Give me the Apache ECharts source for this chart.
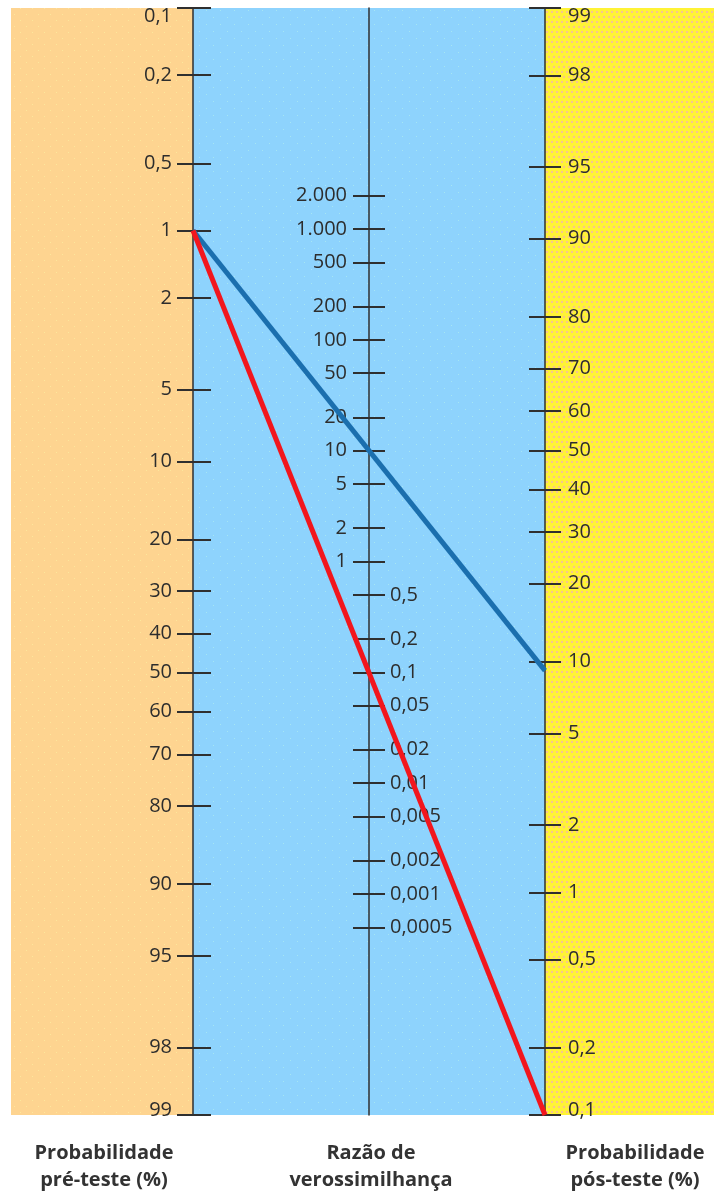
<!DOCTYPE html>
<html>
<head>
<meta charset="utf-8">
<script src="https://cdn.jsdelivr.net/npm/echarts@6/dist/echarts.min.js"></script>
<style>
  html, body { margin: 0; padding: 0; background: #ffffff; }
  #chart { width: 714px; height: 1196px; }
</style>
</head>
<body>
<div id="chart"></div>
<script>
// Fagan nomogram: pre-test probability, likelihood ratio, post-test probability

// ---- data ----
const preTicks  = [0.1, 0.2, 0.5, 1, 2, 5, 10, 20, 30, 40, 50, 60, 70, 80, 90, 95, 98, 99];
const preLabels = ['0,1', '0,2', '0,5', '1', '2', '5', '10', '20', '30', '40', '50', '60', '70', '80', '90', '95', '98', '99'];

const postTicks  = [99, 98, 95, 90, 80, 70, 60, 50, 40, 30, 20, 10, 5, 2, 1, 0.5, 0.2, 0.1];
const postLabels = ['99', '98', '95', '90', '80', '70', '60', '50', '40', '30', '20', '10', '5', '2', '1', '0,5', '0,2', '0,1'];

const lrHighTicks  = [2000, 1000, 500, 200, 100, 50, 20, 10, 5, 2, 1];
const lrHighLabels = ['2.000', '1.000', '500', '200', '100', '50', '20', '10', '5', '2', '1'];
const lrLowTicks   = [0.5, 0.2, 0.1, 0.05, 0.02, 0.01, 0.005, 0.002, 0.001, 0.0005];
const lrLowLabels  = ['0,5', '0,2', '0,1', '0,05', '0,02', '0,01', '0,005', '0,002', '0,001', '0,0005'];

// two worked examples: pre-test probability (%) -> post-test probability (%)
const exampleNames = ['RV 10', 'RV 0,1'];
const examplePre   = [1, 1];
const examplePost  = [9.2, 0.1];
const exampleColors = ['#1b6fae', '#f2161d'];

// ---- layout / style ----
const W = 714;
const GRID = { left: 193, right: 169, top: 8, bottom: 81 };
const PANEL_LEFT = 11;
const AXIS_GAP = (W - GRID.left - GRID.right) / 2;   // distance between neighbouring scales
const FONT = '"Open Sans", "Noto Sans", sans-serif';
const TEXT_COLOR = '#2d2d2d';
const LINE_COLOR = '#2f2f2f';

// ---- nomogram scale (shared vertical unit = log-odds) ----
const logit = p => Math.log((p / 100) / (1 - p / 100));
const U_MIN = logit(0.1);           // top of the scales
const U_MAX = logit(99);            // bottom of the scales
const K = U_MIN + U_MAX;
const preU  = p => logit(p);                  // left scale
const postU = q => K - logit(q);              // right scale (reversed)
const lrU   = r => (K - Math.log(r)) / 2;     // middle scale (half slope)

function labeller(values, labels) {
  return function (v) {
    for (let i = 0; i < values.length; i++) {
      if (Math.abs(values[i] - v) < 1e-9) return labels[i];
    }
    return '';
  };
}

const preVals    = preTicks.map(preU);
const postVals   = postTicks.map(postU);
const lrHighVals = lrHighTicks.map(lrU);
const lrLowVals  = lrLowTicks.map(lrU);
const lrAllVals  = lrHighVals.concat(lrLowVals);

function makeAxis(o) {
  return {
    type: 'value',
    min: U_MIN,
    max: U_MAX,
    inverse: true,
    position: o.position,
    offset: o.offset || 0,
    splitLine: { show: false },
    axisLine: { show: !!o.line, onZero: false, lineStyle: { color: LINE_COLOR, width: 1.5 } },
    axisTick: o.ticks ? {
      show: true,
      inside: !!o.tickInside,
      length: o.tickLen,
      customValues: o.ticks,
      lineStyle: { color: LINE_COLOR, width: 2 }
    } : { show: false },
    axisLabel: o.labelVals ? {
      show: true,
      inside: !!o.labelInside,
      margin: o.margin,
      customValues: o.labelVals,
      formatter: labeller(o.labelVals, o.labelText),
      color: TEXT_COLOR,
      fontFamily: FONT,
      fontSize: 20,
      verticalAlign: o.vAlign || 'middle',
      lineHeight: o.lineHeight || 22,
      showMinLabel: true,
      showMaxLabel: true,
      hideOverlap: false
    } : { show: false }
  };
}

const n = preTicks.length;
const yAxes = [
  // left scale
  makeAxis({ position: 'left', line: true, ticks: preVals, tickLen: 16,
             labelVals: preVals.slice(1, n - 1), labelText: preLabels.slice(1, n - 1), margin: 21 }),
  makeAxis({ position: 'left', ticks: preVals, tickInside: true, tickLen: 18,
             labelVals: [preVals[0]], labelText: [preLabels[0]], margin: 21, vAlign: 'top', lineHeight: 16 }),
  makeAxis({ position: 'left',
             labelVals: [preVals[n - 1]], labelText: [preLabels[n - 1]], margin: 21, vAlign: 'bottom', lineHeight: 10 }),
  // middle scale
  makeAxis({ position: 'left', offset: -AXIS_GAP, line: true, ticks: lrAllVals, tickLen: 16,
             labelVals: lrHighVals, labelText: lrHighLabels, margin: 22 }),
  makeAxis({ position: 'left', offset: -AXIS_GAP, ticks: lrAllVals, tickInside: true, tickLen: 16,
             labelVals: lrLowVals, labelText: lrLowLabels, labelInside: true, margin: 21 }),
  // right scale
  makeAxis({ position: 'right', line: true, ticks: postVals, tickLen: 16,
             labelVals: postVals.slice(1, n - 1), labelText: postLabels.slice(1, n - 1), margin: 23 }),
  makeAxis({ position: 'right', ticks: postVals, tickInside: true, tickLen: 16,
             labelVals: [postVals[0]], labelText: [postLabels[0]], margin: 23, vAlign: 'top', lineHeight: 16 }),
  makeAxis({ position: 'right',
             labelVals: [postVals[n - 1]], labelText: [postLabels[n - 1]], margin: 23, vAlign: 'bottom', lineHeight: 10 })
];

// dotted panel fills
function dotPattern(bg, dot, size, pts, r) {
  const c = document.createElement('canvas');
  c.width = size; c.height = size;
  const g = c.getContext('2d');
  g.fillStyle = bg;
  g.fillRect(0, 0, size, size);
  g.fillStyle = dot;
  pts.forEach(p => g.fillRect(p[0], p[1], r, r));
  return { image: c, repeat: 'repeat' };
}
const orangeFill = dotPattern('#fed490', '#fde79c', 12, [[2, 2], [8, 8]], 1);
const blueFill   = dotPattern('#8ed3fd', '#a6e6f4', 14, [[3, 3], [10, 10]], 1);
const yellowFill = dotPattern('#fff336', '#f8c48e', 10, [[1, 1], [6, 1], [3, 6], [8, 6]], 2);

const plotTop = GRID.top;
const plotBottom = 1196 - GRID.bottom;
const xLeft = GRID.left;
const xMid = GRID.left + AXIS_GAP;
const xRight = W - GRID.right;

const chart = echarts.init(document.getElementById('chart'), null, { renderer: 'canvas' });

chart.setOption({
  animation: false,
  backgroundColor: '#ffffff',
  grid: { left: GRID.left, right: GRID.right, top: GRID.top, bottom: GRID.bottom, outerBoundsMode: 'none' },
  xAxis: { type: 'value', min: 0, max: 2, show: false, axisLine: { onZero: false } },
  yAxis: yAxes,
  graphic: [
    { type: 'rect', z: -10, silent: true,
      shape: { x: PANEL_LEFT, y: plotTop, width: xLeft - PANEL_LEFT, height: plotBottom - plotTop },
      style: { fill: orangeFill } },
    { type: 'rect', z: -10, silent: true,
      shape: { x: xLeft, y: plotTop, width: xRight - xLeft, height: plotBottom - plotTop },
      style: { fill: blueFill } },
    { type: 'rect', z: -10, silent: true,
      shape: { x: xRight, y: plotTop, width: W - xRight, height: plotBottom - plotTop },
      style: { fill: yellowFill } },
    { type: 'text', silent: true, x: 104, y: 1140,
      style: { text: 'Probabilidade\npré-teste (%)', textAlign: 'center', textVerticalAlign: 'top',
               fontFamily: FONT, fontWeight: 'bold', fontSize: 20, lineHeight: 27, fill: '#333333' } },
    { type: 'text', silent: true, x: xMid + 2, y: 1140,
      style: { text: 'Razão de\nverossimilhança', textAlign: 'center', textVerticalAlign: 'top',
               fontFamily: FONT, fontWeight: 'bold', fontSize: 20, lineHeight: 27, fill: '#333333' } },
    { type: 'text', silent: true, x: 635, y: 1140,
      style: { text: 'Probabilidade\npós-teste (%)', textAlign: 'center', textVerticalAlign: 'top',
               fontFamily: FONT, fontWeight: 'bold', fontSize: 20, lineHeight: 27, fill: '#333333' } }
  ],
  series: exampleNames.map((name, i) => ({
    name: name,
    type: 'line',
    xAxisIndex: 0,
    yAxisIndex: 0,
    symbol: 'none',
    silent: true,
    z: 5,
    lineStyle: { color: exampleColors[i], width: 5 },
    data: [[0, preU(examplePre[i])], [2, postU(examplePost[i])]]
  }))
});
</script>
</body>
</html>
